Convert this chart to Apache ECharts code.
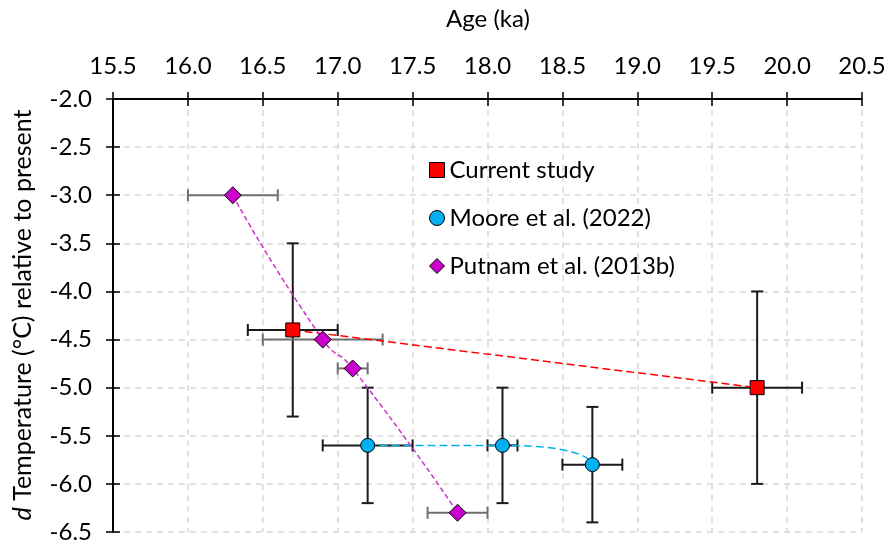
<!DOCTYPE html>
<html>
<head>
<meta charset="utf-8">
<title>Age vs temperature</title>
<script src="https://cdn.jsdelivr.net/npm/echarts@6/dist/echarts.min.js"></script>
<style>
  html, body { margin: 0; padding: 0; background: #fff; }
  #chart { width: 885px; height: 545px; }
</style>
</head>
<body>
<div id="chart"></div>
<script>
// axis ticks
const ageTicks = [15.5, 16.0, 16.5, 17.0, 17.5, 18.0, 18.5, 19.0, 19.5, 20.0, 20.5]
const tempTicks = [-2.0, -2.5, -3.0, -3.5, -4.0, -4.5, -5.0, -5.5, -6.0, -6.5]

// Current study
const currentAge = [16.7, 19.8]
const currentTemp = [-4.4, -5.0]
const currentAgeErr = [0.3, 0.3]
const currentTempErr = [0.9, 1.0]

// Moore et al. (2022)
const mooreAge = [17.2, 18.1, 18.7]
const mooreTemp = [-5.6, -5.6, -5.8]
const mooreAgeErr = [0.3, 0.1, 0.2]
const mooreTempErr = [0.6, 0.6, 0.6]

// Putnam et al. (2013b)
const putnamAge = [16.3, 16.9, 17.1, 17.8]
const putnamTemp = [-3.0, -4.5, -4.8, -6.3]
const putnamAgeErr = [0.3, 0.4, 0.1, 0.2]
const putnamTempErr = [0, 0, 0, 0]

const FONT = 'Lato, "Noto Sans", sans-serif'

function pairs(xs, ys) {
  return xs.map((x, i) => [x, ys[i]])
}
function errRows(xs, ys, ex, ey) {
  return xs.map((x, i) => [x, ys[i], ex[i], ey[i]])
}

function errorBars(color) {
  return function (params, api) {
    const x = api.value(0)
    const y = api.value(1)
    const ex = api.value(2)
    const ey = api.value(3)
    const cap = 6
    const children = []
    const style = { stroke: color, lineWidth: 2 }
    if (ex > 0) {
      const l = api.coord([x - ex, y])
      const r = api.coord([x + ex, y])
      children.push({ type: 'line', shape: { x1: l[0], y1: l[1], x2: r[0], y2: r[1] }, style: style })
      children.push({ type: 'line', shape: { x1: l[0], y1: l[1] - cap, x2: l[0], y2: l[1] + cap }, style: style })
      children.push({ type: 'line', shape: { x1: r[0], y1: r[1] - cap, x2: r[0], y2: r[1] + cap }, style: style })
    }
    if (ey > 0) {
      const t = api.coord([x, y + ey])
      const b = api.coord([x, y - ey])
      children.push({ type: 'line', shape: { x1: t[0], y1: t[1], x2: b[0], y2: b[1] }, style: style })
      children.push({ type: 'line', shape: { x1: t[0] - cap, y1: t[1], x2: t[0] + cap, y2: t[1] }, style: style })
      children.push({ type: 'line', shape: { x1: b[0] - cap, y1: b[1], x2: b[0] + cap, y2: b[1] }, style: style })
    }
    return { type: 'group', children: children }
  }
}

const chart = echarts.init(document.getElementById('chart'))

const option = {
  animation: false,
  textStyle: { fontFamily: FONT },
  grid: { left: 113, right: 23, top: 99, bottom: 13, outerBoundsMode: 'none', containLabel: false },
  // axis titles
  graphic: [
    {
      type: 'text',
      x: 488,
      y: 19,
      style: { text: 'Age (ka)', font: '24px ' + FONT, fill: '#000', align: 'center', verticalAlign: 'middle' },
    },
    {
      type: 'text',
      x: 23,
      y: 315,
      rotation: Math.PI / 2,
      style: {
        text: '{i|d} Temperature (°C) relative to present',
        font: '25px ' + FONT,
        fill: '#000',
        align: 'center',
        verticalAlign: 'middle',
        rich: { i: { fontSize: 25, fontStyle: 'italic', fill: '#000', fontFamily: FONT } },
      },
    },
  ],
  legend: {
    orient: 'vertical',
    left: 424,
    top: 152,
    itemGap: 22,
    itemWidth: 15,
    itemHeight: 15,
    selectedMode: false,
    textStyle: { fontSize: 24, color: '#000', lineHeight: 26, fontFamily: FONT },
    data: [
      { name: 'Current study', icon: 'rect', itemStyle: { color: '#ff0000', borderColor: '#000', borderWidth: 1 } },
      { name: 'Moore et al. (2022)', icon: 'circle', itemStyle: { color: '#00b0f0', borderColor: '#000', borderWidth: 1 } },
      { name: 'Putnam et al. (2013b)', icon: 'diamond', itemStyle: { color: '#cc00cc', borderColor: '#000', borderWidth: 1 } },
    ],
  },
  xAxis: [
    {
      type: 'value',
      position: 'top',
      min: ageTicks[0],
      max: ageTicks[ageTicks.length - 1],
      interval: 0.5,
      axisLine: { onZero: false, lineStyle: { color: '#000', width: 2 } },
      axisTick: { length: 7, lineStyle: { color: '#000', width: 1.5 } },
      axisLabel: { fontSize: 24, color: '#000', margin: 21, formatter: v => v.toFixed(1) },
      splitLine: { show: true, lineStyle: { color: '#d9d9d9', type: [6, 5], width: 1.5 } },
    },
    {
      // inner half of the crossing ticks
      type: 'value',
      position: 'top',
      min: ageTicks[0],
      max: ageTicks[ageTicks.length - 1],
      interval: 0.5,
      axisLine: { show: false, onZero: false },
      axisTick: { inside: true, length: 7, lineStyle: { color: '#000', width: 1.5 } },
      axisLabel: { show: false },
      splitLine: { show: false },
    },
  ],
  yAxis: [
    {
      type: 'value',
      min: tempTicks[tempTicks.length - 1],
      max: tempTicks[0],
      interval: 0.5,
      axisLine: { onZero: false, lineStyle: { color: '#000', width: 2 } },
      axisTick: { length: 7, lineStyle: { color: '#000', width: 1.5 } },
      axisLabel: { fontSize: 24, color: '#000', margin: 21, formatter: v => v.toFixed(1) },
      splitLine: { show: true, lineStyle: { color: '#d9d9d9', type: [6, 5], width: 1.5 } },
    },
    {
      type: 'value',
      position: 'left',
      min: tempTicks[tempTicks.length - 1],
      max: tempTicks[0],
      interval: 0.5,
      axisLine: { show: false, onZero: false },
      axisTick: { show: true, inside: true, length: 7, lineStyle: { color: '#000', width: 1.5 } },
      axisLabel: { show: false },
      splitLine: { show: false },
    },
  ],
  series: [
    {
      name: 'Current study err',
      type: 'custom',
      z: 3,
      renderItem: errorBars('#1a1a1a'),
      data: errRows(currentAge, currentTemp, currentAgeErr, currentTempErr),
    },
    {
      name: 'Moore err',
      type: 'custom',
      z: 3,
      renderItem: errorBars('#1a1a1a'),
      data: errRows(mooreAge, mooreTemp, mooreAgeErr, mooreTempErr),
    },
    {
      name: 'Putnam err',
      type: 'custom',
      z: 3,
      renderItem: errorBars('#707070'),
      data: errRows(putnamAge, putnamTemp, putnamAgeErr, putnamTempErr),
    },
    {
      name: 'Current study',
      type: 'line',
      z: 5,
      symbol: 'rect',
      symbolSize: 14,
      itemStyle: { color: '#ff0000', borderColor: '#000', borderWidth: 1 },
      lineStyle: { color: '#ff0000', type: [8, 4], width: 1.5 },
      data: pairs(currentAge, currentTemp),
    },
    {
      name: 'Moore et al. (2022)',
      type: 'line',
      z: 5,
      smooth: 1,
      symbol: 'circle',
      symbolSize: 14,
      itemStyle: { color: '#00b0f0', borderColor: '#000', borderWidth: 1 },
      lineStyle: { color: '#00b0f0', type: [8, 4], width: 1.5 },
      data: pairs(mooreAge, mooreTemp),
    },
    {
      name: 'Putnam et al. (2013b)',
      type: 'line',
      z: 5,
      smooth: 0.6,
      symbol: 'diamond',
      symbolSize: 17,
      itemStyle: { color: '#cc00cc', borderColor: '#000', borderWidth: 1 },
      lineStyle: { color: '#cc33cc', type: [5, 3], width: 1.5 },
      data: pairs(putnamAge, putnamTemp),
    },
  ],
}

chart.setOption(option)
</script>
</body>
</html>
